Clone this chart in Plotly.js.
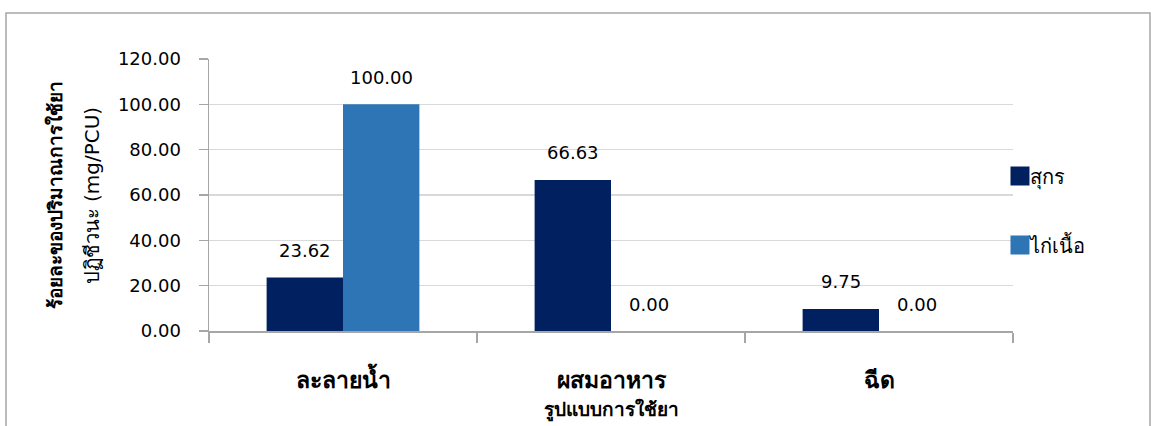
<!DOCTYPE html>
<html>
<head>
<meta charset="utf-8">
<script src="https://cdn.plot.ly/plotly-3.0.1.min.js"></script>
<style>
  html, body { margin: 0; padding: 0; background: #ffffff; }
  #chart { width: 1151px; height: 426px; }
</style>
</head>
<body>
<div id="chart"></div>
<script>
// Antibiotic usage by administration route (percent of mg/PCU)
const routes = ['ละลายน้ำ', 'ผสมอาหาร', 'ฉีด'];
const seriesNames = ['สุกร', 'ไก่เนื้อ'];
const pigValues = [23.62, 66.63, 9.75];
const broilerValues = [100.00, 0.00, 0.00];
const yTickValues = [0, 20, 40, 60, 80, 100, 120];

const colors = ['#002060', '#2e75b6'];
const FONT = 'Tahoma, "DejaVu Sans", "Noto Sans", sans-serif';
const bargap = 0.43;

const traces = [pigValues, broilerValues].map((vals, i) => ({
  type: 'bar',
  name: seriesNames[i],
  x: routes,
  y: vals,
  legendgroup: 'g' + i,
  marker: { color: colors[i] },
  hoverinfo: 'x+y+name'
}));

// value labels above each bar, centred on the bar's slot within its group
const half = (1 - bargap) / 4;
const labels = [];
[pigValues, broilerValues].forEach((vals, s) => {
  vals.forEach((v, c) => {
    labels.push({
      x: c + (s === 0 ? -half : half),
      y: v,
      xref: 'x', yref: 'y',
      text: v.toFixed(2),
      showarrow: false,
      yanchor: 'middle',
      yshift: 27,
      font: { family: FONT, size: 18, color: '#000000' }
    });
  });
});

// two-line rotated y title
labels.push({
  xref: 'paper', yref: 'paper',
  x: -0.1915, y: 0.5,
  text: '<b>ร้อยละของปริมาณการใช้ยา</b>',
  textangle: -90, showarrow: false,
  xanchor: 'center', yanchor: 'middle',
  font: { family: FONT, size: 19, color: '#000000' }
});
labels.push({
  xref: 'paper', yref: 'paper',
  x: -0.145, y: 0.5,
  text: 'ปฏิชีวนะ (mg/PCU)',
  textangle: -90, showarrow: false,
  xanchor: 'center', yanchor: 'middle',
  font: { family: FONT, size: 20, color: '#000000' }
});

const layout = {
  width: 1151,
  height: 426,
  margin: { l: 209, r: 138, t: 59, b: 95 },
  paper_bgcolor: '#ffffff',
  plot_bgcolor: '#ffffff',
  barmode: 'group',
  bargap: bargap,
  bargroupgap: 0,
  font: { family: FONT, size: 18, color: '#000000' },
  xaxis: {
    type: 'category',
    showline: true,
    linecolor: '#a6a6a6',
    linewidth: 1.5,
    ticks: 'outside',
    tickson: 'boundaries',
    ticklen: 10,
    tickcolor: '#a6a6a6',
    tickwidth: 1.5,
    showgrid: false,
    ticklabelstandoff: 28,
    tickfont: { family: FONT, size: 23, color: '#000000', weight: 'bold' },
    title: {
      text: '<b>รูปแบบการใช้ยา</b>',
      standoff: 10,
      font: { family: FONT, size: 19, color: '#000000' }
    },
    fixedrange: true
  },
  yaxis: {
    range: [0, 120],
    tickvals: yTickValues,
    tickformat: '.2f',
    showline: true,
    linecolor: '#a6a6a6',
    linewidth: 1.5,
    ticks: 'outside',
    ticklen: 9,
    tickcolor: '#a6a6a6',
    tickwidth: 1.5,
    showgrid: true,
    gridcolor: '#d9d9d9',
    gridwidth: 1.5,
    zeroline: false,
    ticklabelstandoff: 14,
    tickfont: { family: FONT, size: 18, color: '#000000' },
    fixedrange: true
  },
  showlegend: true,
  legend: {
    x: 0.972, xanchor: 'left',
    y: 0.642, yanchor: 'top',
    tracegroupgap: 40,
    font: { family: FONT, size: 20, color: '#000000' },
    bgcolor: 'rgba(0,0,0,0)',
    itemclick: false, itemdoubleclick: false
  },
  annotations: labels,
  shapes: [{
    type: 'rect', xref: 'paper', yref: 'paper',
    x0: -0.2525, x1: 1.1704, y0: -0.4, y1: 1.169,
    line: { color: '#a6a6a6', width: 1.5 },
    fillcolor: 'rgba(0,0,0,0)',
    layer: 'below'
  }]
};

Plotly.newPlot('chart', traces, layout, { displayModeBar: false, staticPlot: true }).then(() => {
  // larger square legend swatches, sitting close to their text
  document.querySelectorAll('#chart .legend .legendpoints path').forEach(p => {
    p.setAttribute('d', 'M19,9.5H0V-9.5H19Z');
    p.style.strokeWidth = '0';
  });
});
</script>
</body>
</html>
